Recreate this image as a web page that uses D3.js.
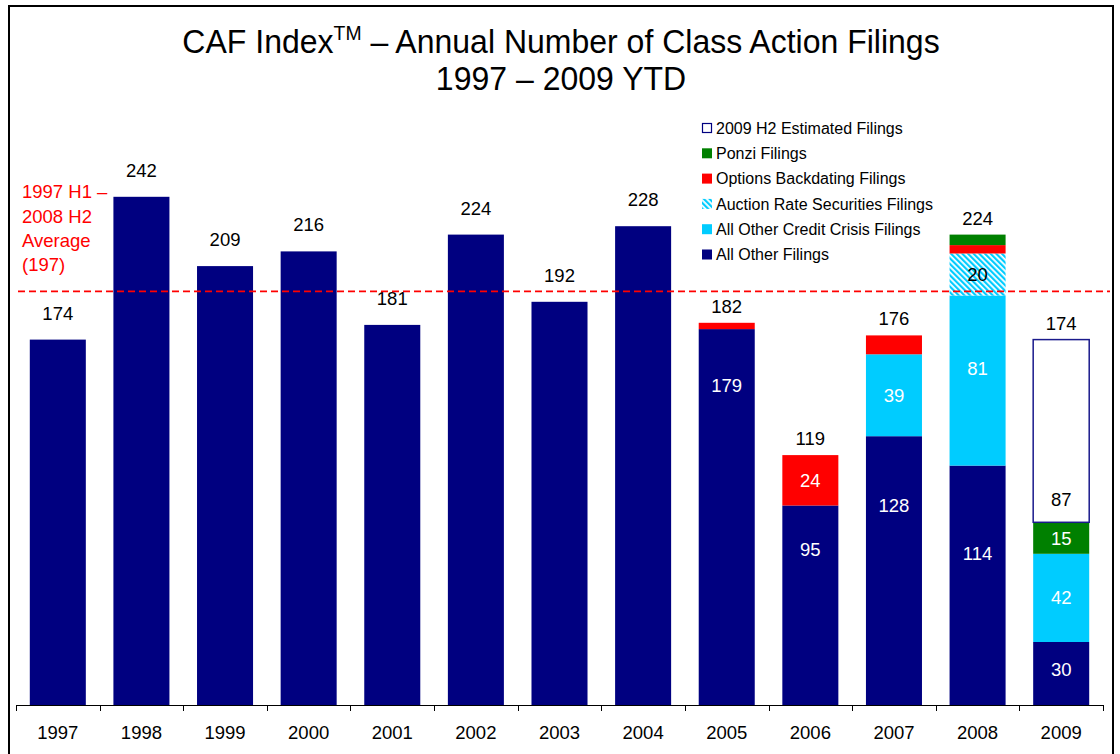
<!DOCTYPE html>
<html><head><meta charset="utf-8">
<script src="https://cdn.jsdelivr.net/npm/d3@7"></script>
<style>
html,body{margin:0;padding:0;background:#fff;}
svg text{font-family:"Liberation Sans",Arial,sans-serif;}
</style></head>
<body>
<svg id="chart" width="1120" height="754"></svg>
<script>
const years = ["1997","1998","1999","2000","2001","2002","2003","2004","2005","2006","2007","2008","2009"];
const allOther    = [174,242,209,216,181,224,192,228,179,95,128,114,30];
const otherCredit = [0,0,0,0,0,0,0,0,0,0,39,81,42];
const auctionRate = [0,0,0,0,0,0,0,0,0,0,0,20,0];
const options     = [0,0,0,0,0,0,0,0,3,24,9,4,0];
const ponzi       = [0,0,0,0,0,0,0,0,0,0,0,5,15];
const estimated   = [0,0,0,0,0,0,0,0,0,0,0,0,87];
const totals      = [174,242,209,216,181,224,192,228,182,119,176,224,174];
const average = 197;
// where the "All Other" inside labels sit (in data units), 2005-2009
const allOtherLabelAt = {"2005":152,"2006":74,"2007":95,"2008":72,"2009":17};
const credLabelAt = {"2008":160};
const estLabelAt = {"2009":98};
const seriesNames = ["2009 H2 Estimated Filings","Ponzi Filings","Options Backdating Filings","Auction Rate Securities Filings","All Other Credit Crisis Filings","All Other Filings"];

const svg = d3.select("#chart");
const defs = svg.append("defs");
const pat = defs.append("pattern").attr("id","hatch").attr("patternUnits","userSpaceOnUse")
  .attr("width",4).attr("height",4).attr("patternTransform","rotate(-45)");
pat.append("rect").attr("width",4).attr("height",4).attr("fill","#fff");
pat.append("rect").attr("width",2.2).attr("height",4).attr("fill","#00CCFF");

const keys = ["allOther","otherCredit","auctionRate","options","ponzi","estimated"];
const src = {allOther,otherCredit,auctionRate,options,ponzi,estimated};
const fills = {allOther:"#000080",otherCredit:"#00CCFF",auctionRate:"url(#hatch)",options:"#FF0000",ponzi:"#008000",estimated:"#FFFFFF"};
const rows = years.map((y,i)=>{const r={year:y}; keys.forEach(k=>r[k]=src[k][i]); return r;});
const stacked = d3.stack().keys(keys)(rows);

const x = d3.scaleBand().domain(years).range([16,1103]).paddingInner(0.33).paddingOuter(0.165);
const y = d3.scaleLinear().domain([0,300]).range([705,75]);

// frame
svg.append("rect").attr("x",9).attr("y",6).attr("width",1104).attr("height",760)
  .attr("fill","none").attr("stroke","#000").attr("stroke-width",2);

// bars
stacked.forEach(s=>{
  const k = s.key;
  svg.append("g").selectAll("rect").data(s.filter(d=>d[1]-d[0]>0)).join("rect")
    .attr("x",d=>x(d.data.year)).attr("width",x.bandwidth())
    .attr("y",d=>y(d[1])).attr("height",d=>y(d[0])-y(d[1]))
    .attr("fill",fills[k])
    .attr("stroke",k==="estimated"?"#1a1a8c":"none").attr("stroke-width",k==="estimated"?1.5:0);
});

// segment labels
const segLabels = [];
stacked.forEach(s=>{
  s.forEach(d=>{
    const v = d[1]-d[0]; const yr = d.data.year;
    if(v<=0) return;
    let show=false, pos=(d[0]+d[1])/2, color="#fff";
    if(s.key==="allOther" && allOtherLabelAt[yr]!==undefined){show=true;pos=allOtherLabelAt[yr];}
    if(s.key==="otherCredit"){show=true; if(credLabelAt[yr]!==undefined) pos=credLabelAt[yr];}
    if(s.key==="auctionRate"){show=true;color="#000";}
    if(s.key==="options" && v>=10){show=true;}
    if(s.key==="ponzi" && v>=10){show=true;}
    if(s.key==="estimated"){show=true;color="#000"; if(estLabelAt[yr]!==undefined) pos=estLabelAt[yr];}
    if(show) segLabels.push({yr,v,pos,color});
  });
});
svg.append("g").selectAll("text").data(segLabels).join("text")
  .attr("x",d=>x(d.yr)+x.bandwidth()/2).attr("y",d=>y(d.pos))
  .attr("dy","0.35em").attr("text-anchor","middle").attr("font-size",18.5)
  .attr("fill",d=>d.color).text(d=>d.v);

// total labels
svg.append("g").selectAll("text").data(years).join("text")
  .attr("x",d=>x(d)+x.bandwidth()/2)
  .attr("y",(d,i)=>y(totals[i]) - (i<8?20:10))
  .attr("text-anchor","middle").attr("font-size",18.5).attr("fill","#000")
  .text((d,i)=>totals[i]);

// average line
svg.append("line").attr("x1",18).attr("x2",1110).attr("y1",y(average)).attr("y2",y(average))
  .attr("stroke","#FF0000").attr("stroke-width",1.8).attr("stroke-dasharray","7,4");
const avgText = ["1997 H1 –","2008 H2","Average","("+average+")"];
svg.append("g").selectAll("text").data(avgText).join("text")
  .attr("x",22).attr("y",(d,i)=>192+i*24.2).attr("dy","0.35em")
  .attr("font-size",18.5).attr("fill","#FF0000").text(d=>d);

// x axis
const xAxis = svg.append("g");
xAxis.append("line").attr("x1",16).attr("x2",1103).attr("y1",705.5).attr("y2",705.5).attr("stroke","#000").attr("stroke-width",1);
const edges = years.map(yy=>x(yy)-x.step()*x.paddingInner()/2).concat([1103]);
xAxis.selectAll("line.tick").data(edges).join("line").attr("class","tick")
  .attr("x1",d=>Math.round(d)+0.5).attr("x2",d=>Math.round(d)+0.5).attr("y1",705).attr("y2",711)
  .attr("stroke","#000");
xAxis.selectAll("text").data(years).join("text")
  .attr("x",d=>x(d)+x.bandwidth()/2).attr("y",733).attr("dy","0.35em")
  .attr("text-anchor","middle").attr("font-size",18.5).text(d=>d);

// legend
const lg = svg.append("g");
const lfill = ["#fff","#008000","#FF0000","url(#hatch)","#00CCFF","#000080"];
seriesNames.forEach((n,i)=>{
  const yy = 128 + i*25.3;
  lg.append("rect").attr("x",i===0?702.5:702).attr("y",yy-5+(i===0?0.5:0)).attr("width",i===0?9:10).attr("height",i===0?9:10)
    .attr("fill",lfill[i]).attr("stroke",i===0?"#000080":"none").attr("stroke-width",i===0?1.2:0);
  lg.append("text").attr("x",716).attr("y",yy).attr("dy","0.35em").attr("font-size",16).text(n);
});

// title
const t1 = svg.append("text").attr("transform","translate(561,53) scale(0.97,1)").attr("text-anchor","middle").attr("font-size",33);
t1.append("tspan").text("CAF Index");
t1.append("tspan").attr("font-size",20).attr("dy",-13).text("TM");
t1.append("tspan").attr("dy",13).text(" – Annual Number of Class Action Filings");
svg.append("text").attr("transform","translate(561,90) scale(0.97,1)").attr("text-anchor","middle").attr("font-size",33)
  .text("1997 – 2009 YTD");
</script>
</body></html>
